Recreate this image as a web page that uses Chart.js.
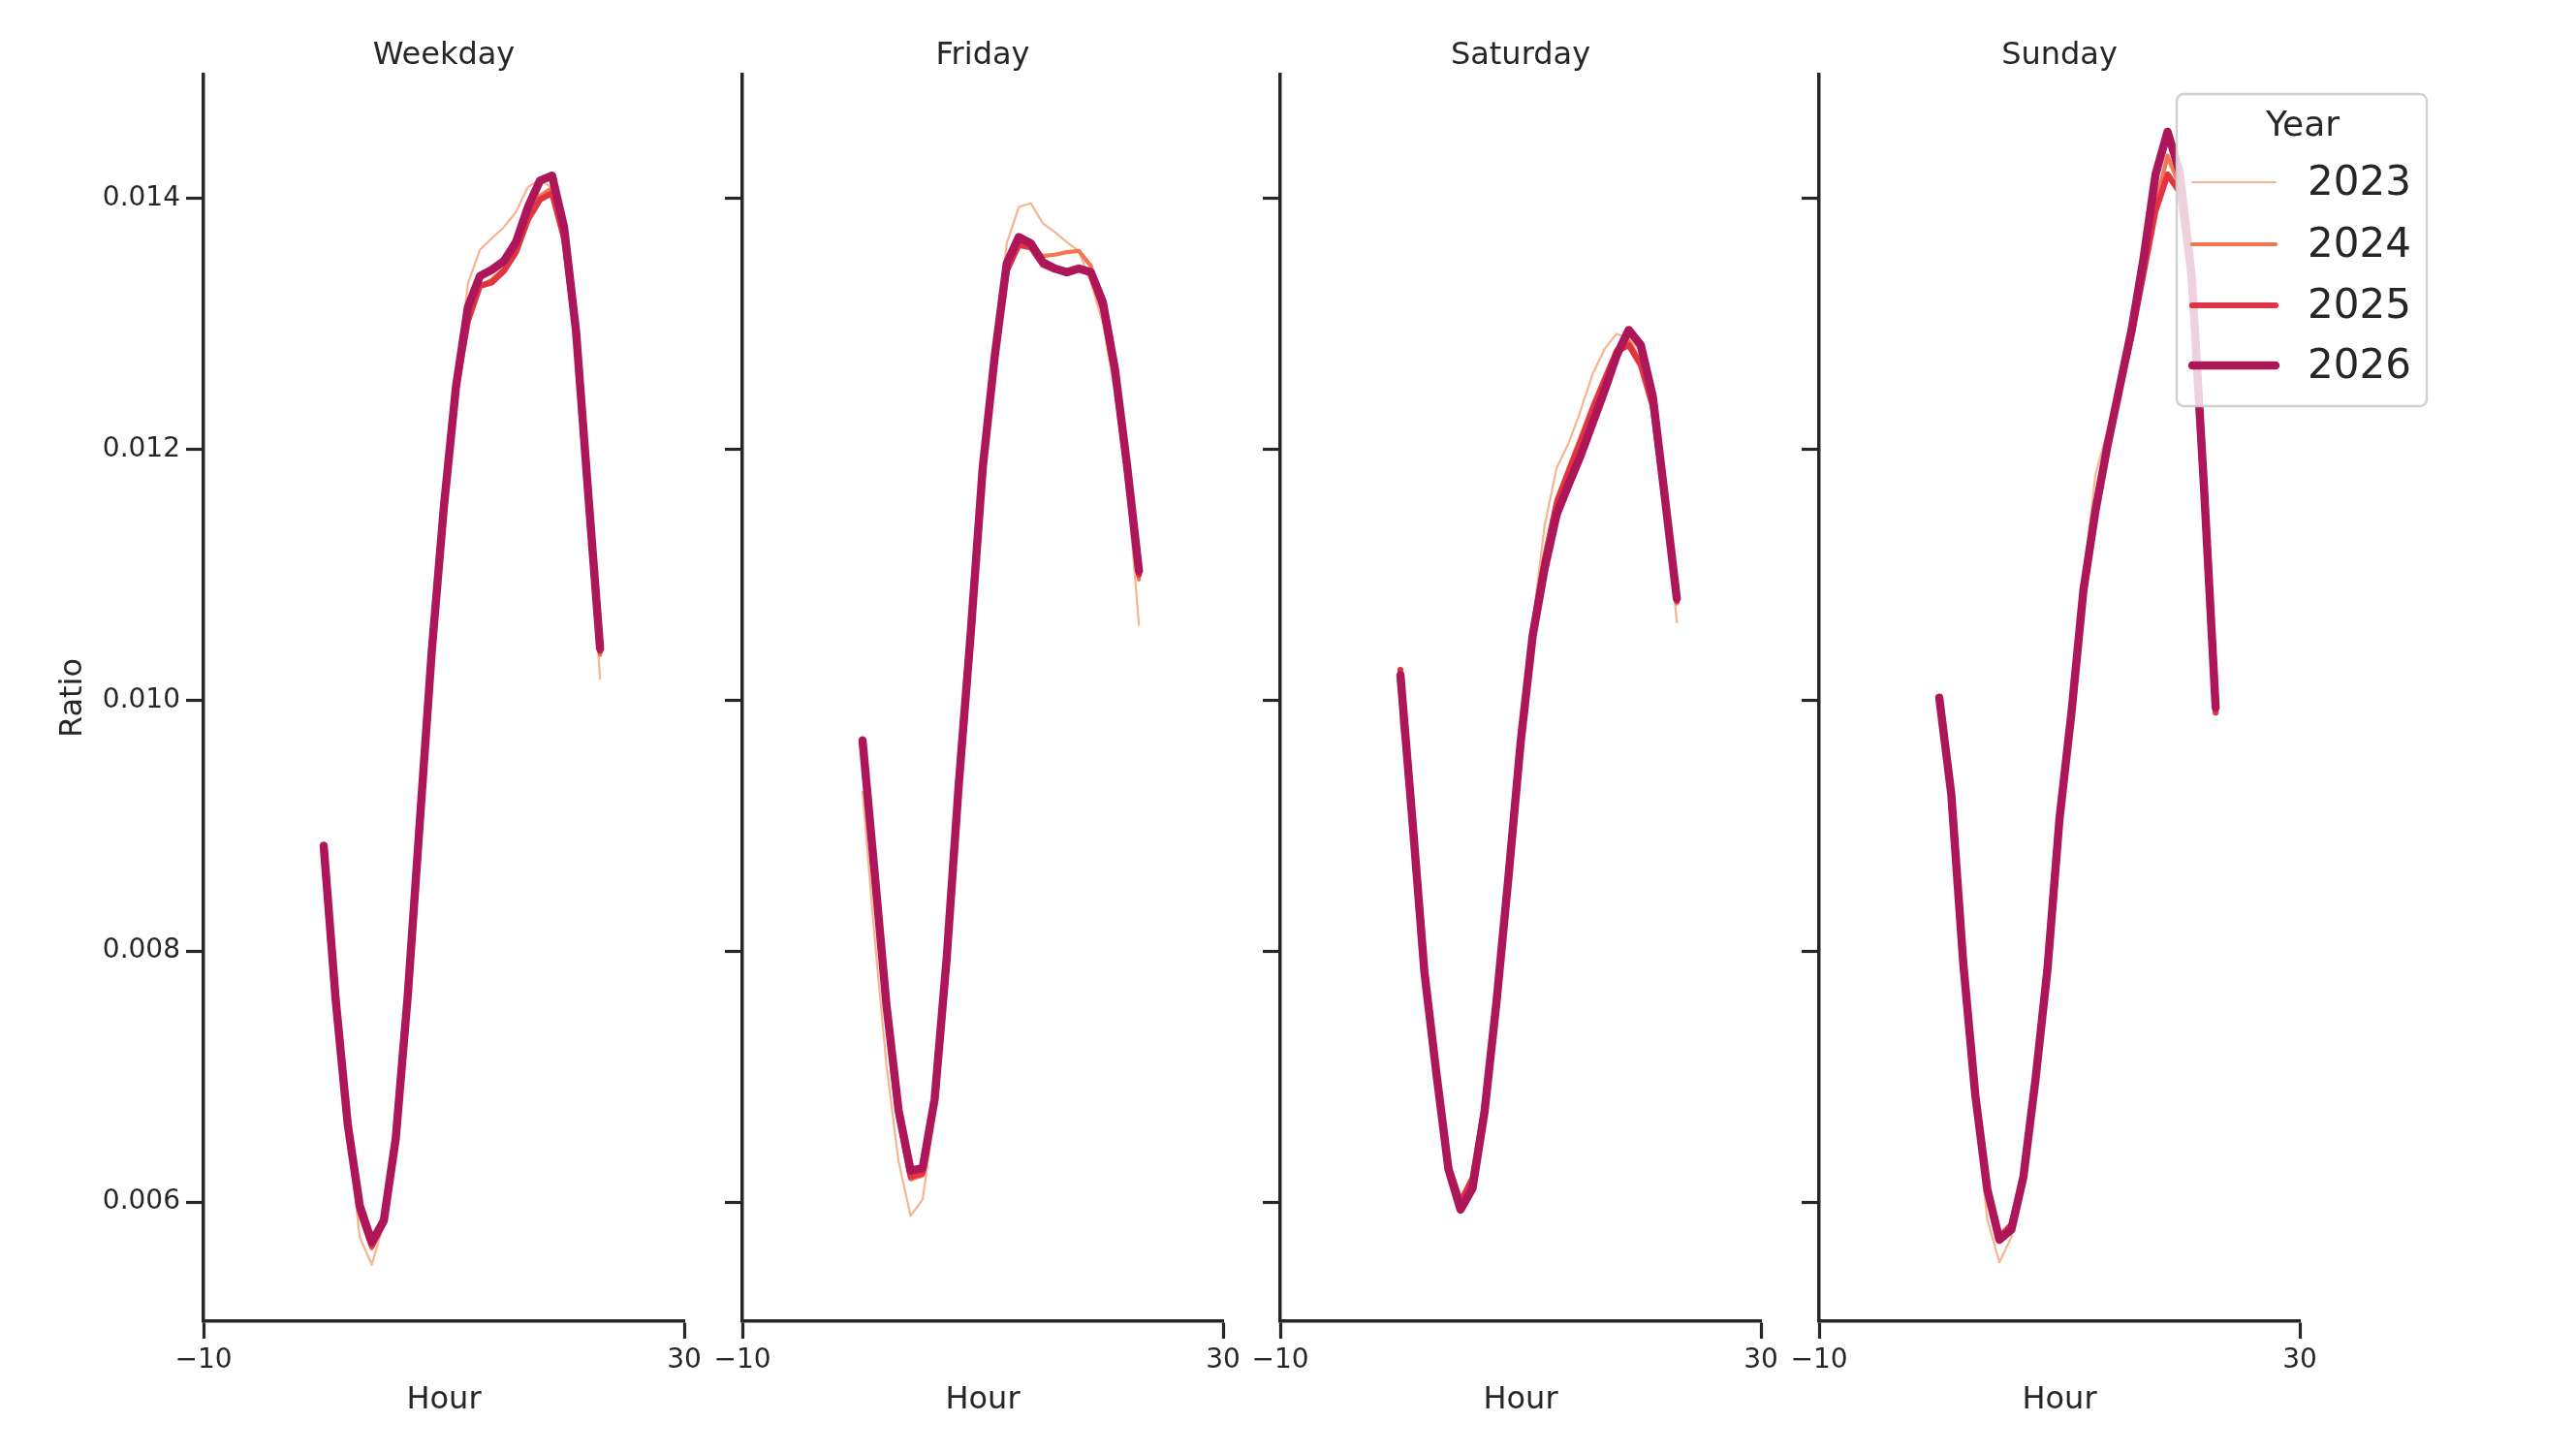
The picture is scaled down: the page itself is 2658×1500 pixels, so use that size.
<!DOCTYPE html>
<html>
<head>
<meta charset="utf-8">
<script src="https://cdn.jsdelivr.net/npm/chart.js@4"></script>
<style>
  html, body { margin: 0; padding: 0; background: #ffffff; }
  body { width: 2658px; height: 1500px; position: relative; overflow: hidden; }
  canvas { position: absolute; top: 0; }
</style>
</head>
<body>
<canvas id="c0" width="880" height="1500" style="left:0px"></canvas>
<canvas id="c1" width="880" height="1500" style="left:556px"></canvas>
<canvas id="c2" width="880" height="1500" style="left:1111px"></canvas>
<canvas id="c3" width="880" height="1500" style="left:1667px"></canvas>
<script>
const hours = [0, 1, 2, 3, 4, 5, 6, 7, 8, 9, 10, 11, 12, 13, 14, 15, 16, 17, 18, 19, 20, 21, 22, 23];
const panels = ['Weekday', 'Friday', 'Saturday', 'Sunday'];
const years = ['2023', '2024', '2025', '2026'];
const yTicks = [0.006, 0.008, 0.010, 0.012, 0.014];
const xTicks = [-10, 30];

// ratio per hour, one array per panel and year
const weekday2023 = [0.00880, 0.00755, 0.00655, 0.00572, 0.00550, 0.00583, 0.00648, 0.00762, 0.00900, 0.01038, 0.01152, 0.01250, 0.01332, 0.01359, 0.01368, 0.01377, 0.01389, 0.01409, 0.01415, 0.01408, 0.01372, 0.01290, 0.01162, 0.01017];
const weekday2024 = [0.00882, 0.00758, 0.00658, 0.00590, 0.00563, 0.00582, 0.00650, 0.00764, 0.00902, 0.01039, 0.01152, 0.01248, 0.01304, 0.01330, 0.01335, 0.01344, 0.01360, 0.01386, 0.01402, 0.01408, 0.01370, 0.01292, 0.01164, 0.01036];
const weekday2025 = [0.00883, 0.00760, 0.00660, 0.00593, 0.00565, 0.00584, 0.00651, 0.00765, 0.00903, 0.01040, 0.01153, 0.01248, 0.01302, 0.01330, 0.01333, 0.01342, 0.01357, 0.01383, 0.01399, 0.01404, 0.01368, 0.01292, 0.01165, 0.01039];
const weekday2026 = [0.00884, 0.00761, 0.00662, 0.00597, 0.00568, 0.00585, 0.00651, 0.00765, 0.00903, 0.01040, 0.01154, 0.01249, 0.01313, 0.01338, 0.01343, 0.01350, 0.01365, 0.01393, 0.01414, 0.01418, 0.01377, 0.01294, 0.01166, 0.01041];

const friday2023 = [0.00927, 0.00811, 0.00708, 0.00632, 0.00589, 0.00602, 0.00670, 0.00788, 0.00930, 0.01052, 0.01185, 0.01275, 0.01364, 0.01393, 0.01396, 0.01380, 0.01373, 0.01365, 0.01358, 0.01333, 0.01300, 0.01245, 0.01175, 0.01060];
const friday2024 = [0.00960, 0.00855, 0.00750, 0.00668, 0.00618, 0.00621, 0.00680, 0.00793, 0.00932, 0.01053, 0.01185, 0.01274, 0.01345, 0.01362, 0.01360, 0.01354, 0.01355, 0.01357, 0.01358, 0.01346, 0.01310, 0.01258, 0.01180, 0.01096];
const friday2025 = [0.00965, 0.00860, 0.00754, 0.00670, 0.00620, 0.00623, 0.00681, 0.00794, 0.00932, 0.01053, 0.01185, 0.01273, 0.01342, 0.01363, 0.01361, 0.01347, 0.01343, 0.01341, 0.01344, 0.01340, 0.01312, 0.01260, 0.01183, 0.01100];
const friday2026 = [0.00968, 0.00863, 0.00756, 0.00673, 0.00625, 0.00627, 0.00682, 0.00794, 0.00932, 0.01053, 0.01185, 0.01274, 0.01348, 0.01369, 0.01364, 0.01349, 0.01344, 0.01341, 0.01344, 0.01341, 0.01317, 0.01264, 0.01188, 0.01103];

const saturday2023 = [0.00985, 0.00895, 0.00780, 0.00700, 0.00624, 0.00600, 0.00620, 0.00676, 0.00762, 0.00862, 0.00970, 0.01062, 0.01139, 0.01185, 0.01205, 0.01231, 0.01260, 0.01280, 0.01292, 0.01288, 0.01278, 0.01236, 0.01160, 0.01062];
const saturday2024 = [0.01022, 0.00906, 0.00785, 0.00704, 0.00628, 0.00598, 0.00616, 0.00675, 0.00762, 0.00861, 0.00968, 0.01056, 0.01115, 0.01160, 0.01185, 0.01210, 0.01235, 0.01258, 0.01280, 0.01286, 0.01270, 0.01236, 0.01160, 0.01077];
const saturday2025 = [0.01024, 0.00907, 0.00786, 0.00705, 0.00629, 0.00600, 0.00619, 0.00676, 0.00762, 0.00861, 0.00968, 0.01054, 0.01112, 0.01157, 0.01182, 0.01206, 0.01232, 0.01255, 0.01278, 0.01283, 0.01267, 0.01234, 0.01160, 0.01079];
const saturday2026 = [0.01020, 0.00904, 0.00783, 0.00702, 0.00626, 0.00594, 0.00611, 0.00672, 0.00760, 0.00860, 0.00966, 0.01051, 0.01105, 0.01148, 0.01172, 0.01195, 0.01221, 0.01247, 0.01275, 0.01295, 0.01283, 0.01242, 0.01162, 0.01081];

const sunday2023 = [0.01000, 0.00920, 0.00785, 0.00672, 0.00586, 0.00552, 0.00572, 0.00616, 0.00698, 0.00795, 0.00915, 0.01005, 0.01096, 0.01180, 0.01215, 0.01255, 0.01300, 0.01350, 0.01400, 0.01430, 0.01410, 0.01335, 0.01172, 0.00992];
const sunday2024 = [0.01002, 0.00924, 0.00790, 0.00682, 0.00605, 0.00568, 0.00578, 0.00620, 0.00698, 0.00793, 0.00908, 0.00992, 0.01090, 0.01155, 0.01205, 0.01250, 0.01293, 0.01345, 0.01395, 0.01434, 0.01410, 0.01335, 0.01172, 0.00993];
const sunday2025 = [0.01001, 0.00924, 0.00791, 0.00684, 0.00608, 0.00572, 0.00582, 0.00621, 0.00697, 0.00792, 0.00906, 0.00990, 0.01088, 0.01152, 0.01203, 0.01248, 0.01290, 0.01340, 0.01390, 0.01419, 0.01405, 0.01332, 0.01170, 0.00990];
const sunday2026 = [0.01002, 0.00925, 0.00790, 0.00685, 0.00610, 0.00570, 0.00578, 0.00620, 0.00697, 0.00785, 0.00905, 0.00990, 0.01088, 0.01151, 0.01203, 0.01249, 0.01295, 0.01352, 0.01419, 0.01453, 0.01421, 0.01339, 0.01175, 0.00994];

const panelSeries = [
  [weekday2023, weekday2024, weekday2025, weekday2026],
  [friday2023, friday2024, friday2025, friday2026],
  [saturday2023, saturday2024, saturday2025, saturday2026],
  [sunday2023, sunday2024, sunday2025, sunday2026]
];

const yearColors = ['#f6b48f', '#f37651', '#e13342', '#ad1759'];
const yearWidths = [2.2, 4.2, 6.2, 8.5];
const ink = '#262626';
const family = '"DejaVu Sans", sans-serif';

// legend box drawn over the last panel, semi-transparent like matplotlib
const yearLegend = {
  id: 'yearLegend',
  afterDatasetsDraw(chart, args, opts) {
    if (!opts.show) return;
    const ctx = chart.ctx;
    const x0 = chart.chartArea.right - 127;
    const y0 = 97;
    ctx.save();
    ctx.beginPath();
    ctx.roundRect(x0, y0, 258, 322, 7);
    ctx.fillStyle = 'rgba(255,255,255,0.8)';
    ctx.fill();
    ctx.lineWidth = 2.5;
    ctx.strokeStyle = 'rgba(204,204,204,0.9)';
    ctx.stroke();

    ctx.fillStyle = ink;
    ctx.textBaseline = 'middle';
    ctx.textAlign = 'center';
    ctx.font = '36px ' + family;
    ctx.fillText('Year', x0 + 130, y0 + 34);

    ctx.textAlign = 'left';
    ctx.font = '42px ' + family;
    const rows = [91, 155, 218, 280];
    chart.data.datasets.forEach((ds, i) => {
      const y = y0 + rows[i];
      ctx.beginPath();
      ctx.moveTo(x0 + 16, y);
      ctx.lineTo(x0 + 102, y);
      ctx.lineWidth = ds.borderWidth;
      ctx.strokeStyle = ds.borderColor;
      ctx.lineCap = 'round';
      ctx.stroke();
      ctx.fillStyle = ink;
      ctx.fillText(ds.label, x0 + 135, y + 2);
    });
    ctx.restore();
  }
};

panels.forEach((name, p) => {
  const datasets = years.map((yr, k) => ({
    label: yr,
    data: hours.map((h, j) => ({ x: h, y: panelSeries[p][k][j] })),
    borderColor: yearColors[k],
    borderWidth: yearWidths[k],
    borderCapStyle: 'round',
    borderJoinStyle: 'round',
    pointRadius: 0,
    fill: false,
    tension: 0,
    order: 4 - k
  }));

  new Chart(document.getElementById('c' + p), {
    type: 'line',
    data: { datasets },
    plugins: [yearLegend],
    options: {
      responsive: false,
      devicePixelRatio: 1,
      animation: false,
      layout: { padding: { left: 0, right: 174, top: 0, bottom: 0 } },
      plugins: {
        legend: { display: false },
        tooltip: { enabled: false },
        title: { display: false },
        yearLegend: { show: p === 3 }
      },
      scales: {
        // top axis only carries the panel name, centred over the plot
        top: {
          type: 'linear',
          position: 'top',
          min: -10,
          max: 30,
          afterFit: s => { s.height = 77; },
          grid: { display: false },
          border: { display: false },
          ticks: { display: false },
          title: {
            display: true,
            text: name,
            color: ink,
            font: { family, size: 32 },
            padding: { top: 38, bottom: 0 }
          }
        },
        x: {
          type: 'linear',
          min: -10,
          max: 30,
          afterBuildTicks: s => { s.ticks = xTicks.map(v => ({ value: v })); },
          afterFit: s => { s.height = 137; },
          grid: { drawOnChartArea: false, drawTicks: true, tickLength: 18, tickWidth: 3.2, tickColor: ink },
          border: { display: true, color: ink, width: 3.5 },
          ticks: {
            autoSkip: false,
            maxRotation: 0,
            padding: 6,
            color: ink,
            font: { family, size: 28 },
            callback: v => (v < 0 ? '\u2212' + Math.abs(v) : String(v))
          },
          title: {
            display: true,
            text: 'Hour',
            color: ink,
            font: { family, size: 32 },
            padding: { top: 0, bottom: 36 }
          }
        },
        y: {
          type: 'linear',
          min: 0.00505,
          max: 0.014985,
          afterBuildTicks: s => { s.ticks = yTicks.map(v => ({ value: v })); },
          afterFit: s => { s.width = 210; },
          grid: { drawOnChartArea: false, drawTicks: true, tickLength: 18, tickWidth: 3.2, tickColor: ink },
          border: { display: true, color: ink, width: 3.5 },
          ticks: {
            autoSkip: false,
            padding: 6,
            color: ink,
            font: { family, size: 28 },
            callback: v => (p === 0 ? v.toFixed(3) : '')
          },
          title: {
            display: p === 0,
            text: 'Ratio',
            color: ink,
            font: { family, size: 32 },
            padding: { top: 56, bottom: 0 }
          }
        }
      }
    }
  });
});
</script>
</body>
</html>
